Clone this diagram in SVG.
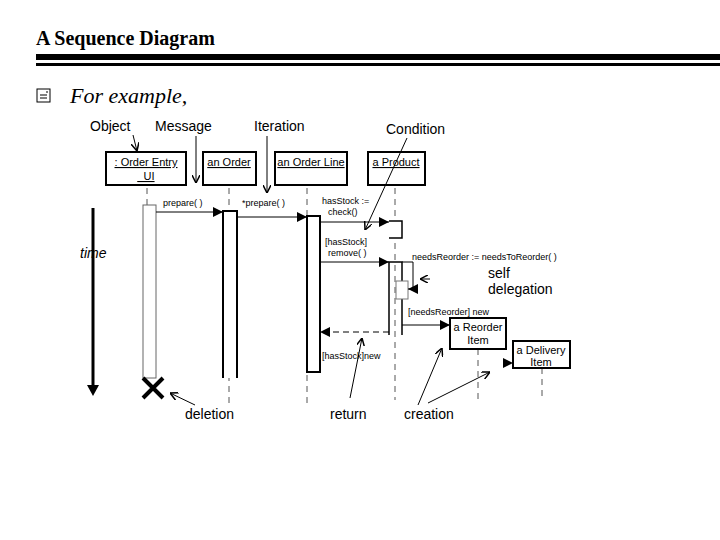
<svg xmlns="http://www.w3.org/2000/svg" width="720" height="540" viewBox="0 0 720 540">
<style>
.s{font-family:"Liberation Sans",Arial,sans-serif}
.lb{font-family:"Liberation Sans",Arial,sans-serif;font-size:14px}
.sm{font-family:"Liberation Sans",Arial,sans-serif;font-size:9px}
.nd{font-family:"Liberation Sans",Arial,sans-serif;font-size:11px;text-decoration:underline}
.box{fill:#fff;stroke:#000;stroke-width:2}
.ll{stroke:#555;stroke-dasharray:6,5;fill:none}
.msg{stroke:#000;stroke-width:1;fill:none;marker-end:url(#a)}
.ann{stroke:#000;stroke-width:1;fill:none;marker-end:url(#o)}
</style>
<defs>
<marker id="a" markerWidth="10" markerHeight="10" refX="10" refY="5" orient="auto" markerUnits="userSpaceOnUse"><path d="M0,0L10,5L0,10Z"/></marker>
<marker id="o" markerWidth="8" markerHeight="8" refX="8" refY="4" orient="auto" markerUnits="userSpaceOnUse"><path d="M0,0L8,4L0,8" fill="none" stroke="#000" stroke-width="1.5"/></marker>
</defs>
<rect width="720" height="540" fill="#fff"/>
<text x="36" y="45" font-family="Liberation Serif,serif" font-weight="bold" font-size="20">A Sequence Diagram</text>
<rect x="36" y="54" width="684" height="6"/>
<rect x="36" y="63" width="684" height="3"/>
<rect x="37" y="89" width="13" height="13" fill="none" stroke="#000"/>
<path d="M40,95h7M40,98h7M47,91v2" stroke="#000"/>
<text x="70" y="103" font-family="Liberation Serif,serif" font-style="italic" font-size="22">For example,</text>
<g id="lifelines">
<path class="ll" d="M147,188V205M229,188V405M307,188V405M395,188V400M478,349V400M542,368V400"/>
</g>
<g id="activations">
<rect x="143" y="205" width="13" height="173" fill="#fff" stroke="#666"/>
<path d="M223,378V211H237V378" fill="#fff" stroke="#000" stroke-width="2"/>
<rect x="307" y="216" width="13" height="156" class="box"/>
<path d="M389,221H402V238H389" fill="#fff" stroke="#000" stroke-width="1.5"/>
<path d="M389,335V262H402V335" fill="none" stroke="#000" stroke-width="1.5"/>
<rect x="396" y="281" width="12" height="18" fill="#fff" stroke="#777"/>
</g>
<g id="n1"><rect class="box" x="106" y="152" width="80" height="33"/><text class="nd" x="146" y="166" text-anchor="middle">: Order Entry</text><text class="nd" x="146" y="180" text-anchor="middle">_UI</text></g>
<g id="n2"><rect class="box" x="203" y="152" width="53" height="33" stroke="#444" stroke-width="1"/><text class="nd" x="229" y="166" text-anchor="middle">an Order</text></g>
<g id="n3"><rect class="box" x="275" y="152" width="72" height="33" stroke="#444" stroke-width="1"/><text class="nd" x="311" y="166" text-anchor="middle">an Order Line</text></g>
<g id="n4"><rect class="box" x="368" y="152" width="57" height="33" stroke="#444" stroke-width="1"/><text class="nd" x="396" y="166" text-anchor="middle">a Product</text></g>
<g id="n5"><rect class="box" x="450" y="318" width="56" height="31"/><text class="s" font-size="11" x="478" y="331" text-anchor="middle">a Reorder</text><text class="s" font-size="11" x="478" y="344" text-anchor="middle">Item</text></g>
<g id="n6"><rect class="box" x="513" y="341" width="57" height="27"/><text class="s" font-size="11" x="541" y="354" text-anchor="middle">a Delivery</text><text class="s" font-size="11" x="541" y="366" text-anchor="middle">Item</text></g>
<g id="connectors">
<line class="msg" x1="156" y1="212" x2="223" y2="212"/>
<line class="msg" x1="237" y1="217" x2="307" y2="217"/>
<line class="msg" x1="320" y1="222" x2="389" y2="222"/>
<line class="msg" x1="320" y1="262" x2="389" y2="262" stroke-width="2"/>
<path class="msg" d="M402,262H413V289H408" stroke-width="2"/>
<line class="msg" x1="402" y1="325" x2="450" y2="325"/>
<line class="msg" x1="389" y1="332" x2="320" y2="332" stroke-dasharray="6,4" stroke-width="1.5"/>
<path d="M503,358L513,363L503,368Z"/>
<path d="M143,378L163,398M163,378L143,398" stroke="#000" stroke-width="4"/>
<line x1="93" y1="208" x2="93" y2="385" stroke="#000" stroke-width="3"/>
<path d="M87,385L99,385L93,396Z"/>
<path class="ann" d="M133,135L137,151"/>
<path class="ann" d="M196,136V183"/>
<path class="ann" d="M267,136V193"/>
<path class="ann" d="M407,138L365,230"/>
<path class="ann" d="M430,279H420"/>
<path class="ann" d="M195,405L170,393"/>
<path class="ann" d="M350,398L362,338"/>
<path class="ann" d="M418,405L442,348"/>
<path class="ann" d="M428,403L490,372"/>
</g>
<g id="labels">
<text class="lb" x="90" y="131">Object</text>
<text class="lb" x="155" y="131">Message</text>
<text class="lb" x="254" y="131">Iteration</text>
<text class="lb" x="386" y="134">Condition</text>
<text class="lb" x="80" y="258" font-style="italic">time</text>
<text class="lb" x="488" y="278" font-size="15">self</text>
<text class="lb" x="488" y="294" font-size="15">delegation</text>
<text class="lb" x="185" y="419">deletion</text>
<text class="lb" x="330" y="419">return</text>
<text class="lb" x="404" y="419">creation</text>
<text class="sm" x="163" y="206">prepare( )</text>
<text class="sm" x="242" y="206">*prepare( )</text>
<text class="sm" x="322" y="204">hasStock :=</text>
<text class="sm" x="328" y="215">check()</text>
<text class="sm" x="325" y="245">[hasStock]</text>
<text class="sm" x="328" y="256">remove( )</text>
<text class="sm" x="412" y="260">needsReorder := needsToReorder( )</text>
<text class="sm" x="408" y="315">[needsReorder] new</text>
<text class="sm" x="322" y="359">[hasStock]new</text>
</g>
</svg>
